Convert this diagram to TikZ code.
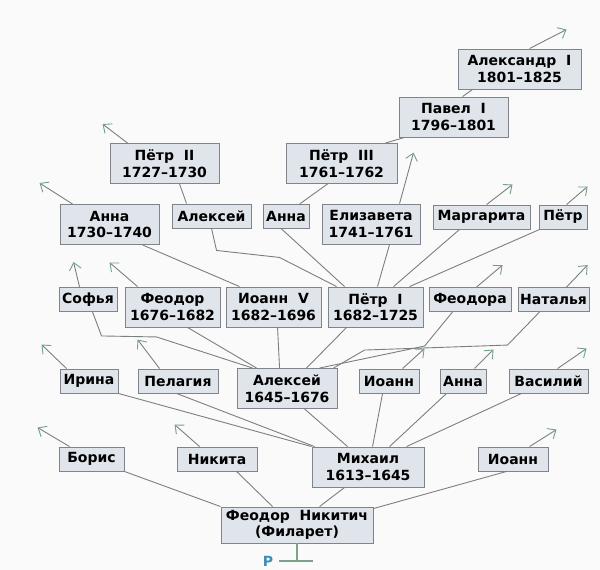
\documentclass[tikz,border=0pt]{standalone}
\usepackage{fontspec}
\setmainfont{DejaVu Sans}
\usepackage{xcolor}
\usepackage{tikz}
\usetikzlibrary{arrows.meta}

\definecolor{bgwhite}{HTML}{FAFAFA}
\definecolor{boxfill}{HTML}{E0E5EB}
\definecolor{boxline}{HTML}{80848A}
\definecolor{branchgray}{HTML}{7E7E7E}
\definecolor{shootgreen}{HTML}{6FA383}
\definecolor{stemgreen}{HTML}{7FA08A}
\definecolor{rootblue}{HTML}{3A8FB5}

\begin{document}
\begin{tikzpicture}[
    x=1pt, y=-1pt,
    every node/.style={font=\fontsize{14}{16.5}\selectfont\bfseries},
    box/.style   ={rectangle,draw=boxline,fill=boxfill,line width=0.9pt,
                   minimum height=24,inner xsep=1pt,inner ysep=3pt,
                   align=center},
    box2/.style  ={box,minimum height=40},
    branch/.style={draw=branchgray,line width=0.9pt},
    shoot/.style ={branch,-{Straight Barb[length=7pt,width=12pt,color=shootgreen]}},
    stem/.style  ={draw=stemgreen,line width=1.3pt},
  ]
  \useasboundingbox (0,0) rectangle (600,570);
  \fill[bgwhite] (0,0) rectangle (600,570);

  % Root: Filaret
  \node[box2,minimum width=152,minimum height=36] (fedor) at (297,525)
        {Феодор\ \ Никитич\\(Филарет)};
  \node[text=rootblue] (rootmark) at (268,561) {Р};
  \coordinate (stemfoot) at (fedor.south |- rootmark.east);

  % Row 1: children of Filaret
  \node[box,minimum width=65]   (boris)   at (91.5,459) {Борис};
  \node[box,minimum width=80]   (nikita)  at (217,459)  {Никита};
  \node[box2,minimum width=112] (mikhail) at (368,467)  {Михаил\\1613–1645};
  \node[box,minimum width=70]   (ioannA)  at (513,459)  {Иоанн};

  % Row 2: children of Mikhail
  \node[box,minimum width=58]   (irina)    at (89,381)    {Ирина};
  \node[box,minimum width=80]   (pelageya) at (178,381)   {Пелагия};
  \node[box2,minimum width=100] (alexei)   at (287,388.5) {Алексей\\1645–1676};
  \node[box,minimum width=60]   (ioannB)   at (389,381)   {Иоанн};
  \node[box,minimum width=46]   (annaA)    at (463,381)   {Анна};
  \node[box,minimum width=79]   (vasily)   at (548.5,381) {Василий};

  % Row 3: children of Alexei
  \node[box,minimum width=58]   (sofya)   at (88,299.5)   {Софья};
  \node[box2,minimum width=95]  (fedorB)  at (172.5,307)  {Феодор\\1676–1682};
  \node[box2,minimum width=95]  (ioannV)  at (273.5,307)  {Иоанн\ \ V\\1682–1696};
  \node[box2,minimum width=95]  (peterI)  at (375.5,307)  {Пётр\ \ I\\1682–1725};
  \node[box,minimum width=82]   (fedora)  at (470,299.5)  {Феодора};
  \node[box,minimum width=71]   (natalya) at (553.5,299.5){Наталья};

  % Row 4: children of Ioann V and Peter I
  \node[box2,minimum width=99]  (annaI)     at (109.5,224.5) {Анна\\1730–1740};
  \node[box,minimum width=79]   (alexeiP)   at (211.5,216)   {Алексей};
  \node[box,minimum width=46]   (annaP)     at (286,216.5)   {Анна};
  \node[box2,minimum width=98]  (elizaveta) at (371,224)     {Елизавета\\1741–1761};
  \node[box,minimum width=97]   (margarita) at (481.5,217)   {Маргарита};
  \node[box,minimum width=48]   (peterP)    at (563,217)     {Пётр};

  % Row 5 and up
  \node[box2,minimum width=109] (peterII)   at (164.5,163.5) {Пётр\ \ II\\1727–1730};
  \node[box2,minimum width=111] (peterIII)  at (341.5,163.5) {Пётр\ \ III\\1761–1762};
  \node[box2,minimum width=109] (pavel)     at (453.5,117)   {Павел\ \ I\\1796–1801};
  \node[box2,minimum width=123] (alexander) at (519.5,69)    {Александр\ \ I\\1801–1825};

  % Root stem
  \draw[stem] (fedor.south) -- (stemfoot);
  \draw[stem] ([xshift=2]rootmark.east) -- ([xshift=16]stemfoot);

  % Filaret's children
  \draw[branch] (boris.south east) -- (fedor.north west);
  \draw[branch] ([xshift=60]nikita.south west) -- ([xshift=52]fedor.north west);
  \draw[branch] ([xshift=33]mikhail.south west) -- ([xshift=99]fedor.north west);
  \draw[branch] ([xshift=29]ioannA.south west) -- ([yshift=-2]fedor.north east);

  % Mikhail's children
  \draw[branch] (irina.south east) -- (mikhail.north west);
  \draw[branch] ([xshift=39]pelageya.south west) -- ([xshift=3]mikhail.north west);
  \draw[branch] ([xshift=68]alexei.south west) -- ([xshift=36]mikhail.north west);
  \draw[branch] ([xshift=24]ioannB.south west) -- ([xshift=61]mikhail.north west);
  \draw[branch] ([xshift=7]annaA.south west) -- ([xshift=78]mikhail.north west);
  \draw[branch] ([xshift=13]vasily.south west) -- ([xshift=95]mikhail.north west);

  % Alexei's children
  \draw[branch] ([xshift=34]sofya.south west) -- ++(9,24) -- ++(55,1)
        -- ([xshift=16]alexei.north west);
  \draw[branch] ([xshift=63]fedorB.south west) -- ([xshift=20]alexei.north west);
  \draw[branch] ([xshift=52]ioannV.south west) -- ([xshift=43]alexei.north west);
  \draw[branch] ([xshift=19]peterI.south west) -- ([xshift=70]alexei.north west);
  \draw[branch] ([xshift=83]alexei.north west) -- ++(105,-22)
        -- ([xshift=24]fedora.south west);
  \draw[branch] ([xshift=97]alexei.north west) -- ++(31,-18) -- ++(143,-5)
        -- ([xshift=22]natalya.south west);

  % Ioann V and Peter I
  \draw[branch] ([xshift=83]annaI.south west) -- ([xshift=14]ioannV.north west);
  \draw[branch] ([xshift=40]alexeiP.south west) -- ++(5,22) -- ++(63,7)
        -- ([xshift=9]peterI.north west);
  \draw[branch] ([xshift=19]annaP.south west) -- ([xshift=17]peterI.north west);
  \draw[branch] ([xshift=68]elizaveta.south west) -- ([xshift=50]peterI.north west);
  \draw[branch] ([xshift=27]margarita.south west) -- ([xshift=66]peterI.north west);
  \draw[branch] ([xshift=1]peterP.south west) -- ([xshift=82]peterI.north west);

  % Later generations
  \draw[branch] ([xshift=70]peterII.south west) -- ([xshift=15]alexeiP.north west);
  \draw[branch] ([xshift=42]peterIII.south west) -- ([xshift=37]annaP.north west);
  \draw[branch] ([xshift=-12]peterIII.north east) -- ([xshift=6]pavel.south west);
  \draw[branch] ([xshift=64]pavel.north west) -- ([xshift=15]alexander.south west);

  % Open shoots (no further line)
  \draw[shoot] ([xshift=11]boris.north west)     -- ++(-32,-19);
  \draw[shoot] ([xshift=23]nikita.north west)    -- ++(-25,-22);
  \draw[shoot] ([xshift=52]ioannA.north west)    -- ++(27,-17);
  \draw[shoot] ([xshift=7]irina.north west)      -- ++(-25,-24);
  \draw[shoot] ([xshift=22]pelageya.north west)  -- ++(-22,-29);
  \draw[shoot] ([xshift=44]ioannB.north west)    -- ++(22,-20);
  \draw[shoot] ([xshift=35]annaA.north west)     -- ++(19,-19);
  \draw[shoot] ([xshift=49]vasily.north west)    -- ++(29,-20);
  \draw[shoot] ([xshift=21]sofya.north west)     -- ++(-6,-25);
  \draw[shoot] ([xshift=13]fedorB.north west)    -- ++(-28,-24);
  \draw[shoot] ([xshift=48]fedora.north west)    -- ++(26,-22);
  \draw[shoot] ([xshift=49]natalya.north west)   -- ++(21,-22);
  \draw[shoot] ([xshift=13]annaI.north west)     -- ++(-33,-21);
  \draw[shoot] ([xshift=18]peterII.north west)   -- ++(-25,-19);
  \draw[shoot] ([xshift=78]elizaveta.north west) -- ++(14,-51);
  \draw[shoot] ([xshift=54]margarita.north west) -- ++(26,-20);
  \draw[shoot] ([xshift=28]peterP.north west)    -- ++(21,-18);
  \draw[shoot] ([xshift=72]alexander.north west) -- ++(37,-19);
\end{tikzpicture}
\end{document}
